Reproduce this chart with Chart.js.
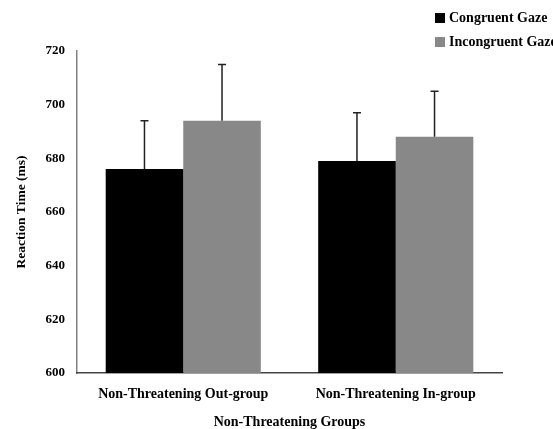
<!DOCTYPE html>
<html>
<head>
<meta charset="utf-8">
<script src="https://cdn.jsdelivr.net/npm/chart.js@4"></script>
<style>
  body { margin: 0; background: #fff; }
  #wrap { width: 553px; height: 429px; }
</style>
</head>
<body>
<div id="wrap"><canvas id="barChart"></canvas></div>
<script>
const groups = ['Non-Threatening Out-group', 'Non-Threatening In-group'];
const congruent = [676, 679];
const incongruent = [694, 688];
const congruentErr = [18, 18];
const incongruentErr = [21, 17];
const yTicks = [600, 620, 640, 660, 680, 700, 720];

const serif = 'Liberation Serif, Times New Roman, serif';

// upward-only error bars with a small cap
const errorBars = {
  id: 'errorBars',
  afterDatasetsDraw(chart) {
    const ctx = chart.ctx;
    const y = chart.scales.y;
    ctx.save();
    ctx.strokeStyle = '#222';
    ctx.lineWidth = 1.5;
    chart.data.datasets.forEach((ds, i) => {
      const meta = chart.getDatasetMeta(i);
      meta.data.forEach((bar, j) => {
        const top = y.getPixelForValue(ds.data[j] + ds.errors[j]);
        ctx.beginPath();
        ctx.moveTo(bar.x, bar.y);
        ctx.lineTo(bar.x, top);
        ctx.moveTo(bar.x - 4, top);
        ctx.lineTo(bar.x + 4, top);
        ctx.stroke();
      });
    });
    ctx.restore();
  }
};

// legend stacked in the top right corner
const cornerLegend = {
  id: 'cornerLegend',
  afterDraw(chart) {
    const ctx = chart.ctx;
    ctx.save();
    ctx.font = 'bold 14px ' + serif;
    ctx.textBaseline = 'middle';
    chart.data.datasets.forEach((ds, i) => {
      const yy = 18 + i * 24;
      ctx.fillStyle = ds.backgroundColor;
      ctx.fillRect(435, yy - 5, 10, 10);
      ctx.fillStyle = '#000';
      ctx.fillText(ds.label, 449, yy);
    });
    ctx.restore();
  }
};

const ctx = document.getElementById('barChart').getContext('2d');
new Chart(ctx, {
  type: 'bar',
  data: {
    labels: groups,
    datasets: [{
      label: 'Congruent Gaze',
      data: congruent,
      errors: congruentErr,
      backgroundColor: '#000000'
    }, {
      label: 'Incongruent Gaze',
      data: incongruent,
      errors: incongruentErr,
      backgroundColor: '#888888'
    }]
  },
  options: {
    responsive: true,
    maintainAspectRatio: false,
    animation: false,
    layout: { padding: { top: 51, right: 51, left: 0, bottom: 0 } },
    datasets: { bar: { barPercentage: 1, categoryPercentage: 0.73 } },
    scales: {
      y: {
        min: 600,
        max: 720,
        afterBuildTicks(axis) { axis.ticks = yTicks.map(v => ({ value: v })); },
        afterFit(axis) { axis.width = 77; },
        grid: { display: false, drawTicks: false },
        border: { color: '#808080', width: 1.5 },
        ticks: { padding: 12, color: '#000', font: { family: serif, size: 13, weight: 'bold' } },
        title: {
          display: true,
          text: 'Reaction Time (ms)',
          color: '#000',
          font: { family: serif, size: 13.5, weight: 'bold' },
          padding: { top: 13, bottom: 10 }
        }
      },
      x: {
        afterFit(axis) { axis.height = 56; },
        grid: { display: false, drawTicks: false },
        border: { color: '#444', width: 1.5 },
        ticks: { padding: 13, color: '#000', font: { family: serif, size: 14, weight: 'bold' } },
        title: {
          display: true,
          text: 'Non-Threatening Groups',
          color: '#000',
          font: { family: serif, size: 14, weight: 'bold' },
          padding: { top: 0, bottom: -2 }
        }
      }
    },
    plugins: {
      legend: { display: false },
      tooltip: { enabled: false }
    }
  },
  plugins: [errorBars, cornerLegend]
});
</script>
</body>
</html>
